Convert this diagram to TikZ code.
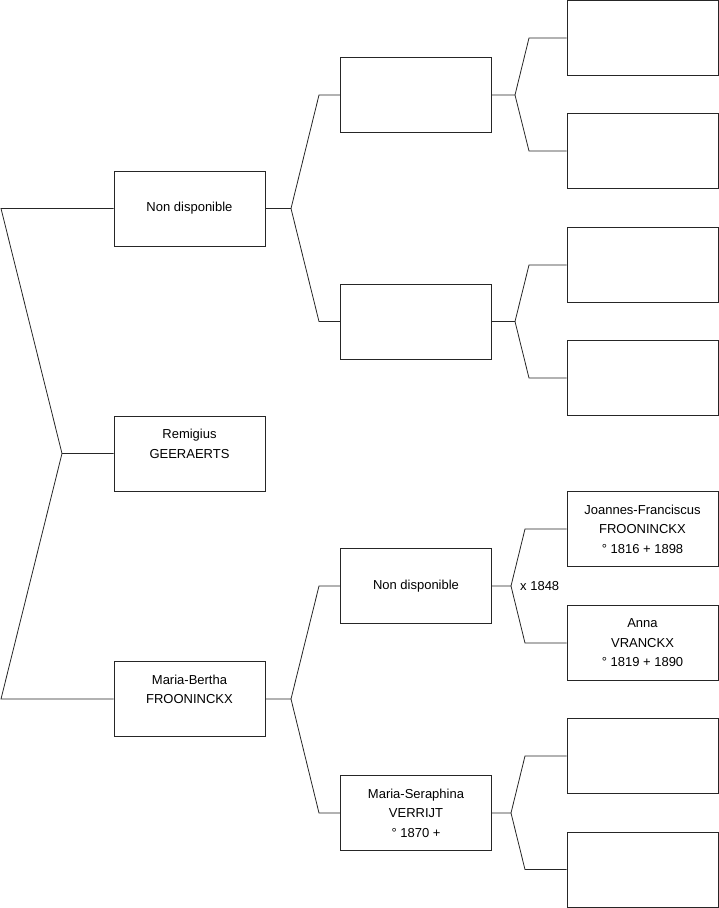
\documentclass[tikz,border=0pt]{standalone}
\usepackage{fontspec}
\setmainfont{Liberation Sans}
\begin{document}
\begin{tikzpicture}[x=1pt,y=-1pt,
  box/.style={draw=black!85, line width=0.8pt, minimum width=151pt, minimum height=75pt,
    inner sep=0pt, align=center, font=\fontsize{13}{19.5}\selectfont},
  link/.style={draw=black!85, line width=0.8pt},
  lbl/.style={inner sep=0pt, font=\fontsize{13}{15}\selectfont}]
\useasboundingbox (0,0) rectangle (719,908);
% generation 1
\node[box] (p1) at (189.5,453.5) {Remigius\\GEERAERTS\\\vphantom{1}};
% generation 2
\node[box] (p2) at (189.5,208.5) {Non disponible};
\node[box] (p3) at (189.5,699) {Maria-Bertha\\FROONINCKX\\\vphantom{1}};
% generation 3
\node[box] (p4) at (416,95) {};
\node[box] (p5) at (416,321.5) {};
\node[box] (p6) at (416,586) {Non disponible};
\node[box] (p7) at (416,813) {Maria-Seraphina\\VERRIJT\\° 1870 +};
% generation 4
\node[box] (p8) at (642.5,38) {};
\node[box] (p9) at (642.5,151) {};
\node[box] (p10) at (642.5,265) {};
\node[box] (p11) at (642.5,378) {};
\node[box] (p12) at (642.5,529) {Joannes-Franciscus\\FROONINCKX\\° 1816 + 1898};
\node[box] (p13) at (642.5,643) {Anna\\VRANCKX\\° 1819 + 1890};
\node[box] (p14) at (642.5,756) {};
\node[box] (p15) at (642.5,869.5) {};
\node[lbl, anchor=west] (m6) at (520,586) {x 1848};
% fork points
\coordinate (j1) at (62,453.5);
\coordinate (a2) at (1,208.5);
\coordinate (a3) at (1,699);
\coordinate (j2) at (291,208.5);
\coordinate (a4) at (319,95);
\coordinate (a5) at (319,321.5);
\coordinate (j3) at (291,699);
\coordinate (a6) at (319,586);
\coordinate (a7) at (319,813);
\coordinate (j4) at (515,95);
\coordinate (a8) at (529,38);
\coordinate (a9) at (529,151);
\coordinate (j5) at (515,321.5);
\coordinate (a10) at (529,265);
\coordinate (a11) at (529,378);
\coordinate (j6) at (511,586);
\coordinate (a12) at (525,529);
\coordinate (a13) at (525,643);
\coordinate (j7) at (511,813);
\coordinate (a14) at (525,756);
\coordinate (a15) at (525,869.5);
% connectors
\draw[link] (p1.west) -- (j1) -- (a2) -- (p2.west);
\draw[link] (j1) -- (a3) -- (p3.west);
\draw[link] (p2.east) -- (j2) -- (a4) -- (p4.west);
\draw[link] (j2) -- (a5) -- (p5.west);
\draw[link] (p3.east) -- (j3) -- (a6) -- (p6.west);
\draw[link] (j3) -- (a7) -- (p7.west);
\draw[link] (p4.east) -- (j4) -- (a8) -- (p8.west);
\draw[link] (j4) -- (a9) -- (p9.west);
\draw[link] (p5.east) -- (j5) -- (a10) -- (p10.west);
\draw[link] (j5) -- (a11) -- (p11.west);
\draw[link] (p6.east) -- (j6) -- (a12) -- (p12.west);
\draw[link] (j6) -- (a13) -- (p13.west);
\draw[link] (p7.east) -- (j7) -- (a14) -- (p14.west);
\draw[link] (j7) -- (a15) -- (p15.west);
\end{tikzpicture}
\end{document}
